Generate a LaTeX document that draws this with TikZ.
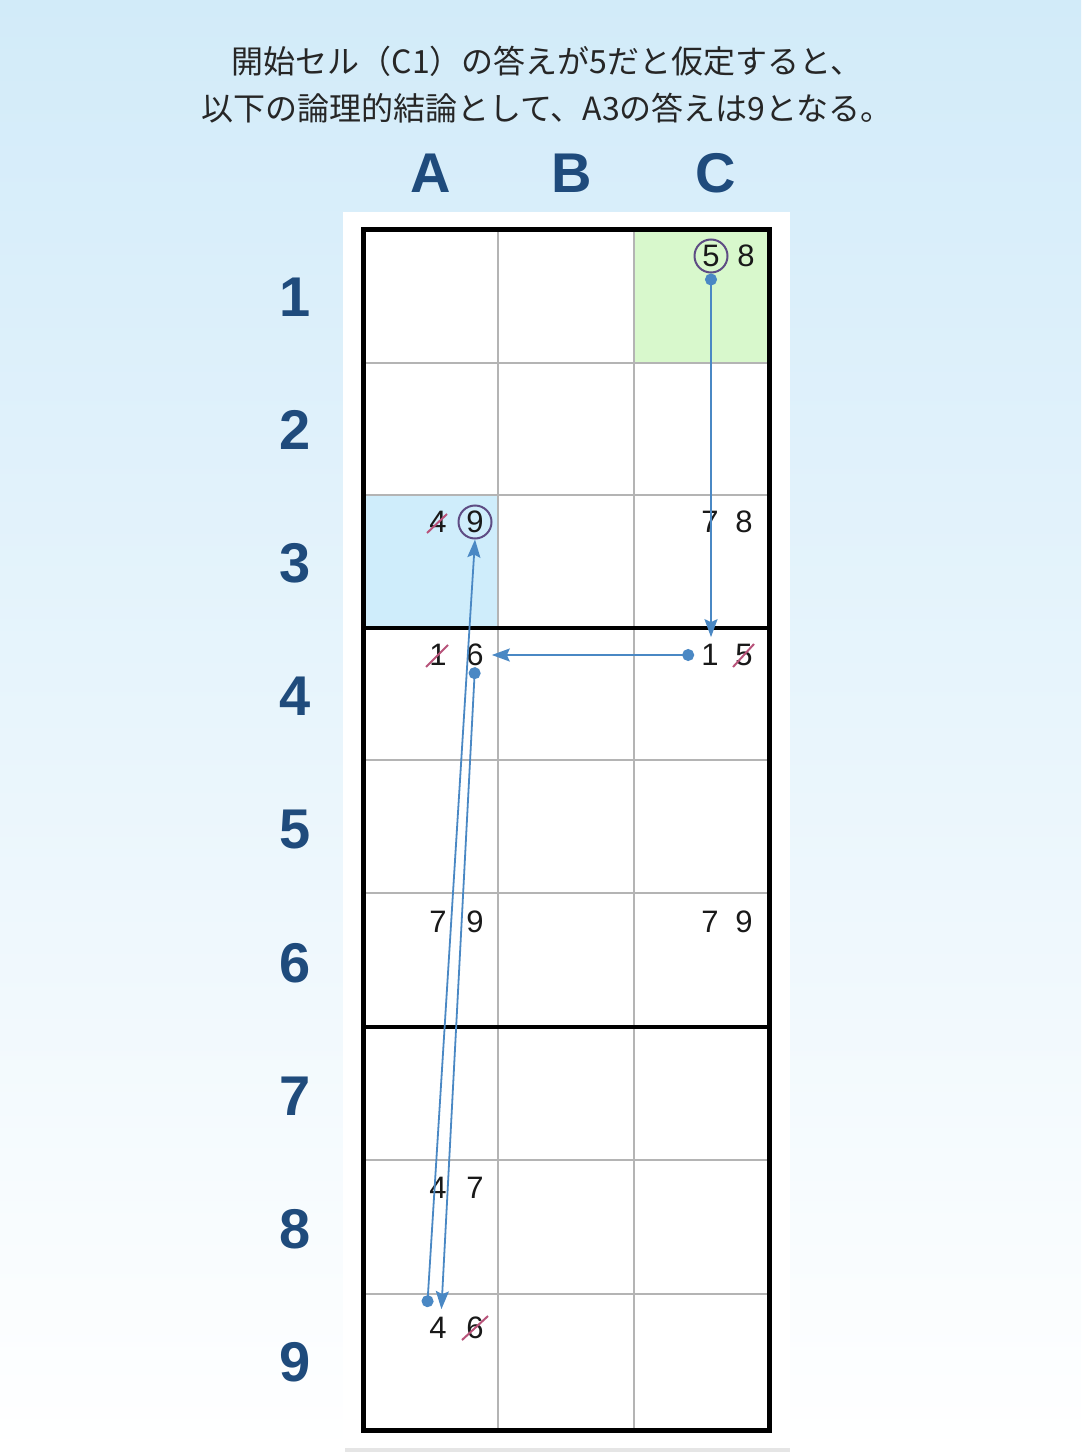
\documentclass[tikz,border=0pt]{standalone}
\usepackage{fontspec}
\setmainfont{Liberation Sans}
\newfontfamily\jpfont{Noto Sans CJK JP}
\usetikzlibrary{positioning, arrows.meta, calc}
\definecolor{bgtop}{HTML}{D2EBF9}
\definecolor{headcol}{HTML}{1F4B7C}
\definecolor{gridgray}{HTML}{B4B4B4}
\definecolor{startcol}{HTML}{D8F8CC}
\definecolor{goalcol}{HTML}{CFEDFB}
\definecolor{ringcol}{HTML}{5E4C84}
\definecolor{strikecol}{HTML}{B8537A}
\definecolor{linkcol}{HTML}{4A88C4}
\tikzset{cand/.style={inner sep=0pt, font=\fontsize{31}{31}\selectfont, text=black!90}}
\tikzset{pick/.style={cand, circle, draw=ringcol, line width=2pt, minimum size=33pt}}
\tikzset{strike/.style={draw=strikecol, line width=2pt}}
\tikzset{head/.style={font=\fontsize{56}{56}\selectfont\bfseries, text=headcol}}
\tikzset{link/.style={draw=linkcol, line width=1.8pt, {Circle[length=12pt]}-{Stealth[length=18pt, width=13pt, inset=3pt]}}}
\tikzset{thinline/.style={draw=gridgray, line width=1.8pt}}
\tikzset{boxline/.style={draw=black, line width=4.5pt}}

\begin{document}
\begin{tikzpicture}[x=1pt, y=-1pt]
    \useasboundingbox (0,0) rectangle (1081,1455);
    \shade[top color=bgtop, bottom color=white] (0,0) rectangle (1081,1455);

    \node[font=\jpfont\fontsize{32}{47}\selectfont, text=black!85, align=center] (title) at (547,85)
        {開始セル（C1）の答えが5だと仮定すると、\\以下の論理的結論として、A3の答えは9となる。};

    \node[head] (colA) at (431,173) {A};
    \node[head] (colB) at (572,173) {B};
    \node[head] (colC) at (716,173) {C};
    \foreach \r in {1,...,9}
        \node[head] (row\r) at (295,{297+133.2*(\r-1)}) {\r};

    \fill[black!10] (345,1444) rectangle (790,1452);
    \fill[white] (343,212) rectangle (790,1448);
    \fill[startcol] (634,230) rectangle (769,363);
    \fill[goalcol] (363,495) rectangle (498,628);

    \foreach \x in {498,634}
        \draw[thinline] (\x,230) -- (\x,1430);
    \foreach \y in {363,495,760,893,1160,1294}
        \draw[thinline] (363,\y) -- (769,\y);
    \draw[boxline] (363,628) -- (769,628);
    \draw[boxline] (363,1027) -- (769,1027);
    \draw[boxline, line width=5pt] (363,230) rectangle (769,1430);

    % candidates
    \node[pick] (c1n5) at (711,256) {5};
    \node[cand, right= 35pt of c1n5.center, anchor=center] (c1n8) {8};

    \node[cand] (a3n4) at (438,522) {4};
    \node[pick] (a3n9) at (475,522) {9};
    \node[cand] (c3n7) at (710,522) {7};
    \node[cand] (c3n8) at (744,522) {8};

    \node[cand] (a4n1) at (438,655) {1};
    \node[cand] (a4n6) at (475,655) {6};
    \node[cand] (c4n1) at (710,655) {1};
    \node[cand] (c4n5) at (744,655) {5};

    \node[cand] (a6n7) at (438,922) {7};
    \node[cand] (a6n9) at (475,922) {9};
    \node[cand] (c6n7) at (710,922) {7};
    \node[cand] (c6n9) at (744,922) {9};

    \node[cand] (a8n4) at (438,1188) {4};
    \node[cand] (a8n7) at (475,1188) {7};

    \node[cand] (a9n4) at (438,1328) {4};
    \node[cand] (a9n6) at (475,1328) {6};

    \draw[strike] ($(a3n4.center)+(-11,11)$) -- +(20,-19);
    \draw[strike] ($(a4n1.center)+(-12,12)$) -- +(22,-22);
    \draw[strike] ($(c4n5.center)+(-11,12)$) -- +(21,-23);
    \draw[strike] ($(a9n6.center)+(-13,12)$) -- +(26,-24);

    % chain
    \draw[link, shorten >=7pt] (c1n5.south) -- (c1n5.south |- c4n1.north);
    \draw[link, shorten <=7pt, shorten >=8pt] (c4n1.west) -- (a4n6.east);
    \draw[link, shorten <=1pt, shorten >=8pt] (a4n6.south) -- ([xshift=3pt]a9n4.north);
    \draw[link] ([xshift=-2pt, yshift=10pt]a9n4.north west) -- (a3n9.south);

\end{tikzpicture}
\end{document}
